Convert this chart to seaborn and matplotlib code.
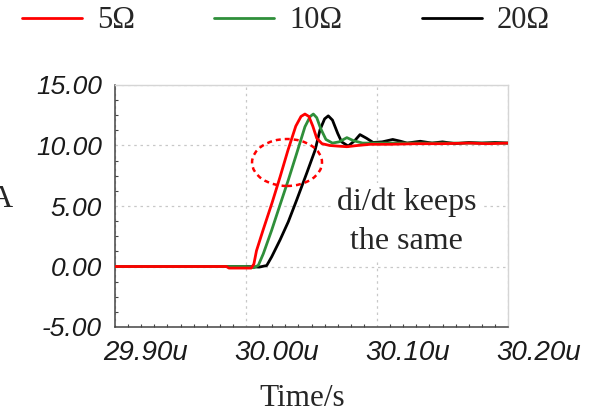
import numpy as np
import pandas as pd
import matplotlib
matplotlib.use("Agg")
import matplotlib.pyplot as plt
from matplotlib.patches import Ellipse
from matplotlib.lines import Line2D
from matplotlib.ticker import MultipleLocator, FuncFormatter
from matplotlib.transforms import ScaledTranslation
import seaborn as sns

# ---- data (time in µs, current in A) ----
red_t = [29.900, 29.985, 29.987, 30.004, 30.006, 30.008, 30.013, 30.020, 30.026, 30.032,
         30.038, 30.042, 30.045, 30.048, 30.051, 30.054, 30.058, 30.064, 30.070, 30.077,
         30.085, 30.095, 30.110, 30.130, 30.150, 30.170, 30.185, 30.200]
red_i = [0.0, 0.0, -0.13, -0.13, 0.2, 1.3, 3.0, 5.3, 7.4, 9.6,
         11.6, 12.4, 12.6, 12.4, 11.6, 10.6, 10.15, 10.0, 9.95, 9.9,
         10.0, 10.1, 10.1, 10.15, 10.15, 10.2, 10.15, 10.2]

green_t = [29.900, 30.000, 30.006, 30.0094, 30.0132, 30.0196, 30.026, 30.0323, 30.0387, 30.045,
           30.049, 30.0514, 30.054, 30.057, 30.061, 30.066, 30.071, 30.077, 30.082, 30.089,
           30.100, 30.120, 30.150, 30.200]
green_i = [0.0, 0.0, -0.1, 0.1, 1.05, 3.0, 5.1, 7.15, 9.35, 11.55,
           12.4, 12.6, 12.3, 11.4, 10.5, 10.2, 10.3, 10.65, 10.4, 10.2,
           10.2, 10.2, 10.2, 10.2]

black_t = [29.900, 30.000, 30.010, 30.0158, 30.0196, 30.026, 30.0323, 30.0387, 30.0463, 30.0527,
           30.0565, 30.0600, 30.0628, 30.066, 30.070, 30.073, 30.078, 30.083, 30.087, 30.092,
           30.097, 30.104, 30.112, 30.118, 30.123, 30.133, 30.142, 30.150, 30.160, 30.170,
           30.180, 30.190, 30.200]
black_i = [0.0, 0.0, -0.05, 0.08, 0.8, 2.2, 3.7, 5.5, 7.7, 9.6,
           11.3, 12.2, 12.45, 12.1, 11.0, 10.3, 9.95, 10.4, 10.9, 10.6,
           10.25, 10.3, 10.5, 10.35, 10.2, 10.35, 10.2, 10.3, 10.15, 10.25,
           10.2, 10.25, 10.2]

series_names = ["5Ω", "10Ω", "20Ω"]
series_colors = ["#ff0000", "#2f8f3a", "#000000"]
x_ticks = [29.90, 30.00, 30.10, 30.20]
y_ticks = [-5, 0, 5, 10, 15]
annotation_lines = ["di/dt keeps", "the same"]
x_label = "Time/s"
y_label = "A"

df = pd.concat([
    pd.DataFrame({"t": red_t, "i": red_i, "R": series_names[0]}),
    pd.DataFrame({"t": green_t, "i": green_i, "R": series_names[1]}),
    pd.DataFrame({"t": black_t, "i": black_i, "R": series_names[2]}),
], ignore_index=True)

sns.set_style("white")
plt.rcParams["font.family"] = ["DejaVu Sans"]

fig = plt.figure(figsize=(5.89, 4.13), dpi=100)
ax = fig.add_axes([115 / 589, 86 / 413, 393 / 589, 242 / 413])

palette = dict(zip(series_names, series_colors))
sns.lineplot(data=df, x="t", y="i", hue="R", hue_order=series_names[::-1],
             palette=palette, estimator=None, sort=False, linewidth=2.0, ax=ax,
             legend=False, zorder=3)

ax.set_xlim(x_ticks[0], x_ticks[-1])
ax.set_ylim(y_ticks[0], y_ticks[-1])
ax.set_xticks(x_ticks)
ax.set_yticks(y_ticks)
ax.xaxis.set_minor_locator(MultipleLocator(0.01))
ax.yaxis.set_minor_locator(MultipleLocator(1.25))
ax.xaxis.set_major_formatter(FuncFormatter(lambda v, p: f"{v:.2f}u"))
ax.yaxis.set_major_formatter(FuncFormatter(lambda v, p: f"{v:.2f}"))
ax.set_xlabel("")
ax.set_ylabel("")

ax.tick_params(axis="y", which="major", direction="out", length=9, width=1.0,
               color="#444444", pad=0.5)
ax.tick_params(axis="y", which="minor", direction="in", length=2.5, width=0.8,
               color="#444444", left=True)
ax.tick_params(axis="x", which="major", direction="inout", length=8, width=1.0,
               color="#444444", pad=5)
ax.tick_params(axis="x", which="minor", direction="in", length=2.5, width=0.8,
               color="#444444", bottom=True)

fig.canvas.draw()
shift = ScaledTranslation(-12 / 100, 0, fig.dpi_scale_trans)
for lab in ax.get_xticklabels():
    lab.set_fontfamily("Liberation Sans")
    lab.set_fontstyle("italic")
    lab.set_fontsize(20)
    lab.set_color("#1a1a1a")
    lab.set_horizontalalignment("left")
    lab.set_transform(lab.get_transform() + shift)
for lab in ax.get_yticklabels():
    lab.set_fontfamily("Liberation Sans")
    lab.set_fontstyle("italic")
    lab.set_fontsize(19)
    lab.set_color("#1a1a1a")

ax.grid(True, which="major", linestyle=(0, (2, 3)), color="#c8c8c8", linewidth=0.9)
for s in ["left", "bottom"]:
    ax.spines[s].set_color("#444444")
    ax.spines[s].set_linewidth(1.1)
for s in ["top", "right"]:
    ax.spines[s].set_color("#d5d5d5")
    ax.spines[s].set_linewidth(1.0)

# annotation ellipse (axes fraction)
ell = Ellipse((0.4377, 0.6798), 0.178, 0.194, transform=ax.transAxes, fill=False,
              edgecolor="#ff0000", linewidth=1.8, linestyle=(0, (2, 1.6)), zorder=4)
ax.add_patch(ell)

serif = "Liberation Serif"
bbox = dict(facecolor="white", edgecolor="none", boxstyle="square,pad=0.15")
ax.text(0.742, 0.4835, annotation_lines[0], transform=ax.transAxes, ha="center",
        va="baseline", fontfamily=serif, fontsize=23, bbox=bbox, zorder=5)
ax.text(0.742, 0.3223, annotation_lines[1], transform=ax.transAxes, ha="center",
        va="baseline", fontfamily=serif, fontsize=23, bbox=bbox, zorder=5)

fig.text(302 / 589, 1 - 398 / 413, x_label, ha="center", va="center",
         fontfamily=serif, fontsize=22.5)
fig.text(13 / 589, 1 - 200 / 413, y_label, ha="right", va="center",
         fontfamily=serif, fontsize=23)

handles = [Line2D([0], [0], color=c, lw=2.0) for c in series_colors]
fig.legend(handles, series_names, loc="center left",
           bbox_to_anchor=(22 / 589, 1 - 21 / 413), ncol=3, frameon=False,
           prop=dict(family=serif, size=22), handlelength=1.96, handletextpad=0.49,
           columnspacing=2.6, borderpad=0, borderaxespad=0)

fig.savefig("out.png", dpi=100)
